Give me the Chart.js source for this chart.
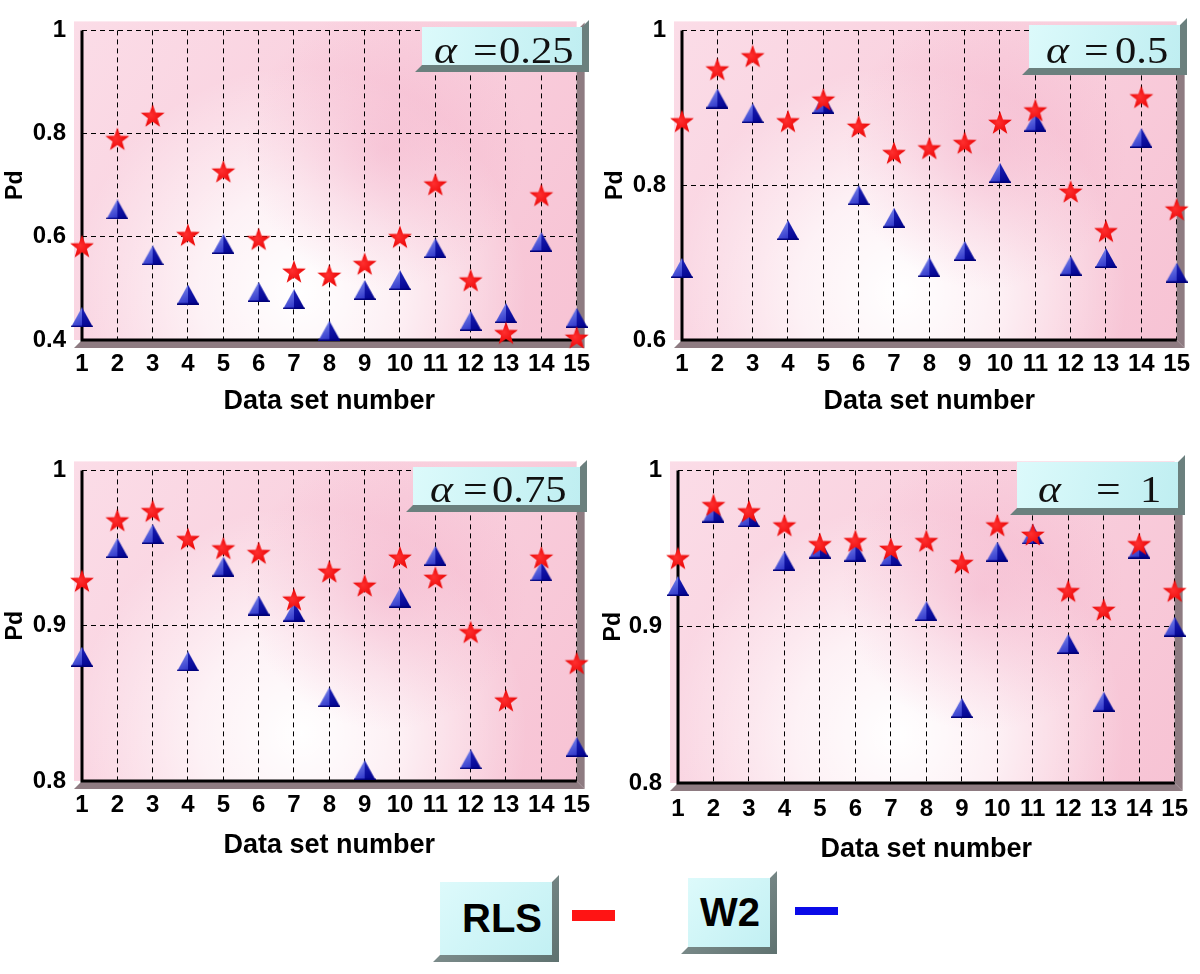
<!DOCTYPE html>
<html>
<head>
<meta charset="utf-8">
<script src="https://cdn.jsdelivr.net/npm/chart.js@4.4.0/dist/chart.umd.min.js"></script>
<style>
  body { margin: 0; background: #fff; width: 1200px; height: 974px; position: relative; overflow: hidden; font-family: "Liberation Sans", Arial, sans-serif; }
  .panel { position: absolute; width: 600px; height: 440px; }
  .lg-shadow { position: absolute; background: linear-gradient(135deg, #8d9b9b, #5f7270); }
  .lg-box { position: absolute; background: linear-gradient(135deg, #ddfafb, #c2f0f3); display: flex; align-items: center; justify-content: center; font-weight: bold; color: #000; font-size: 40px; }
  .dash { position: absolute; }
</style>
</head>
<body>
<div class="panel" style="left:0;top:0"><canvas id="c1" width="600" height="440"></canvas></div>
<div class="panel" style="left:600px;top:0"><canvas id="c2" width="600" height="440"></canvas></div>
<div class="panel" style="left:0;top:440px"><canvas id="c3" width="600" height="440"></canvas></div>
<div class="panel" style="left:600px;top:440px"><canvas id="c4" width="600" height="440"></canvas></div>
<div id="legend"></div>
<script>
// data
const datasetNumbers = [1, 2, 3, 4, 5, 6, 7, 8, 9, 10, 11, 12, 13, 14, 15];
const seriesNames = ['RLS', 'W2'];
const alphaLabels = ['0.25', '0.5', '0.75', '1'];

const rlsA025 = [0.582, 0.790, 0.835, 0.604, 0.727, 0.596, 0.533, 0.525, 0.548, 0.600, 0.702, 0.516, 0.414, 0.681, 0.405];
const w2A025  = [0.444, 0.653, 0.564, 0.488, 0.586, 0.493, 0.479, 0.418, 0.497, 0.516, 0.578, 0.437, 0.452, 0.590, 0.443];
const rlsA050 = [0.883, 0.950, 0.967, 0.883, 0.911, 0.876, 0.842, 0.848, 0.855, 0.881, 0.897, 0.792, 0.741, 0.914, 0.769];
const w2A050  = [0.693, 0.912, 0.893, 0.742, 0.905, 0.787, 0.758, 0.694, 0.715, 0.816, 0.882, 0.696, 0.706, 0.861, 0.687];
const rlsA075 = [0.929, 0.968, 0.974, 0.956, 0.950, 0.947, 0.917, 0.935, 0.926, 0.944, 0.931, 0.896, 0.852, 0.944, 0.876];
const w2A075  = [0.880, 0.950, 0.959, 0.877, 0.938, 0.913, 0.909, 0.854, 0.807, 0.918, 0.945, 0.814, null, 0.935, 0.822];
const rlsA100 = [0.944, 0.978, 0.974, 0.965, 0.953, 0.955, 0.950, 0.955, 0.941, 0.965, 0.959, 0.923, 0.911, 0.953, 0.923];
const w2A100  = [0.926, 0.973, 0.970, 0.942, 0.950, 0.948, 0.945, 0.910, 0.848, 0.948, 0.959, 0.889, 0.852, 0.950, 0.900];

const yMins = [0.4, 0.6, 0.8, 0.8];
const yMaxs = [1, 1, 1, 1];
const ySteps = [0.2, 0.2, 0.1, 0.1];

const rlsSeries = [rlsA025, rlsA050, rlsA075, rlsA100];
const w2Series = [w2A025, w2A050, w2A075, w2A100];

// layout of each panel inside its canvas
const panels = [
  { id: 'c1', area: [82, 22, 581, 340], box: [422, 27, 582, 65], txt: [12, 51, 77, 63], tickPad: 12, titlePad: 22, pdPad: 2 },
  { id: 'c2', area: [82, 22, 581, 340], box: [429, 25, 580, 68], txt: [17, 55, 86, 63], tickPad: 12, titlePad: 22, pdPad: 2 },
  { id: 'c3', area: [82, 23, 580, 341], box: [413, 27, 580, 65], txt: [17, 50, 79, 62], tickPad: 12, titlePad: 18, pdPad: 2 },
  { id: 'c4', area: [78, 26, 576, 343], box: [417, 22, 578, 68], txt: [21, 79, 123, 62], tickPad: 14, titlePad: 14, pdPad: 0 }
];

const narrow = '"Liberation Sans Narrow", "Arial Narrow", "Liberation Sans", Arial, sans-serif';
Chart.defaults.color = '#000';
Chart.defaults.font.family = '"Liberation Sans", Arial, sans-serif';

function makeStar() {
  const c = document.createElement('canvas');
  c.width = 26; c.height = 25;
  const ctx = c.getContext('2d');
  const cx = 13, cy = 13.7, R = 12.5, r = 5.1;
  ctx.beginPath();
  for (let i = 0; i < 10; i++) {
    const a = -Math.PI / 2 + i * Math.PI / 5;
    const rr = i % 2 === 0 ? R : r;
    ctx.lineTo(cx + rr * Math.cos(a), cy + rr * Math.sin(a));
  }
  ctx.closePath();
  const g = ctx.createRadialGradient(cx - 2, cy - 2, 0, cx, cy, R);
  g.addColorStop(0, '#ff3030');
  g.addColorStop(1, '#e80000');
  ctx.fillStyle = g;
  ctx.fill();
  return c;
}

function makeTriangle() {
  const c = document.createElement('canvas');
  c.width = 22; c.height = 20;
  const ctx = c.getContext('2d');
  ctx.beginPath();
  ctx.moveTo(11, 0); ctx.lineTo(0, 20); ctx.lineTo(11, 20); ctx.closePath();
  let g = ctx.createLinearGradient(0, 0, 11, 20);
  g.addColorStop(0, '#8896f0');
  g.addColorStop(1, '#2a30c8');
  ctx.fillStyle = g; ctx.fill();
  ctx.beginPath();
  ctx.moveTo(11, 0); ctx.lineTo(11, 20); ctx.lineTo(22, 20); ctx.closePath();
  g = ctx.createLinearGradient(11, 0, 22, 20);
  g.addColorStop(0, '#1c22b8');
  g.addColorStop(1, '#00008a');
  ctx.fillStyle = g; ctx.fill();
  ctx.fillStyle = '#000078';
  ctx.fillRect(0, 18.5, 22, 1.5);
  return c;
}

const starImg = makeStar();
const triImg = makeTriangle();

function bevelShadow(ctx, x0, y0, x1, y1, d, color) {
  ctx.fillStyle = color;
  ctx.beginPath();
  ctx.moveTo(x1, y0); ctx.lineTo(x1 + d, y0 - d); ctx.lineTo(x1 + d, y1 + d);
  ctx.lineTo(x0 - d, y1 + d); ctx.lineTo(x0, y1); ctx.lineTo(x1, y1);
  ctx.closePath();
  ctx.fill();
}

const framePlugin = {
  id: 'frame',
  beforeDraw(chart, args, opts) {
    const ctx = chart.ctx;
    const a = chart.chartArea;
    const x0 = a.left - 8, y0 = a.top - 9, x1 = a.right, y1 = a.bottom;
    const w = x1 - x0, h = y1 - y0;
    ctx.save();
    let g = ctx.createLinearGradient(x0, y0, x1, y1);
    g.addColorStop(0, '#fbdce7');
    g.addColorStop(0.5, '#f9d0de');
    g.addColorStop(1, '#f7c3d4');
    ctx.fillStyle = g;
    ctx.fillRect(x0, y0, w, h);
    const cx = x0 + w * 0.45, cy = y0 + h * 0.85;
    let rg = ctx.createRadialGradient(cx, cy, 0, cx, cy, w * 0.45);
    rg.addColorStop(0, 'rgba(255,255,255,1)');
    rg.addColorStop(0.45, 'rgba(255,255,255,0.7)');
    rg.addColorStop(1, 'rgba(255,255,255,0)');
    ctx.fillStyle = rg;
    ctx.fillRect(x0, y0, w, h);
    const px = x0 + w * 0.62, py = y0 + h * 0.4;
    rg = ctx.createRadialGradient(px, py, 0, px, py, w * 0.28);
    rg.addColorStop(0, 'rgba(243,172,198,0.5)');
    rg.addColorStop(1, 'rgba(243,172,198,0)');
    ctx.fillStyle = rg;
    ctx.fillRect(x0, y0, w, h);
    // floor and side of the box
    ctx.fillStyle = '#8e7b81';
    ctx.beginPath();
    ctx.moveTo(a.right, a.top); ctx.lineTo(a.right + 8, a.top - 8); ctx.lineTo(a.right + 8, a.bottom + 8);
    ctx.lineTo(a.right, a.bottom); ctx.closePath(); ctx.fill();
    ctx.beginPath();
    ctx.moveTo(a.left, a.bottom); ctx.lineTo(a.right, a.bottom); ctx.lineTo(a.right + 8, a.bottom + 8);
    ctx.lineTo(a.left - 8, a.bottom + 8); ctx.closePath(); ctx.fill();
    ctx.restore();
  },
  beforeDatasetsDraw(chart, args, opts) {
    const ctx = chart.ctx;
    const a = chart.chartArea;
    ctx.save();
    // solid axes
    ctx.strokeStyle = '#000';
    ctx.lineWidth = 3;
    ctx.beginPath();
    ctx.moveTo(a.left, a.top); ctx.lineTo(a.left, a.bottom + 1.5);
    ctx.moveTo(a.left - 1.5, a.bottom); ctx.lineTo(a.right, a.bottom);
    ctx.stroke();
    // alpha label box
    const [bx0, by0, bx1, by1] = opts.box;
    bevelShadow(ctx, bx0, by0, bx1, by1, 7, '#6b807e');
    const g = ctx.createLinearGradient(bx0, by0, bx1, by1);
    g.addColorStop(0, '#dcfafb');
    g.addColorStop(1, '#bfeef1');
    ctx.fillStyle = g;
    ctx.fillRect(bx0, by0, bx1 - bx0, by1 - by0);
    const [tA, tEq, tVal, base] = opts.txt;
    ctx.fillStyle = '#111';
    ctx.textBaseline = 'alphabetic';
    ctx.textAlign = 'left';
    const piece = (s, x, font) => {
      ctx.save();
      ctx.translate(bx0 + x, base);
      ctx.scale(1.15, 1);
      ctx.font = font;
      ctx.fillText(s, 0, 0);
      ctx.restore();
    };
    piece('\u03b1', tA, 'italic 38px "Liberation Serif", "Times New Roman", serif');
    piece('=', tEq, '38px "Liberation Serif", "Times New Roman", serif');
    piece(opts.alpha, tVal, '37px "Liberation Serif", "Times New Roman", serif');
    ctx.restore();
  }
};

panels.forEach(function (p, i) {
  const [L, T, R, B] = p.area;
  const rls = rlsSeries[i].map((v, k) => ({ x: datasetNumbers[k], y: v }));
  const w2 = w2Series[i].map((v, k) => ({ x: datasetNumbers[k], y: v }));
  new Chart(document.getElementById(p.id), {
    type: 'scatter',
    data: {
      datasets: [
        { label: seriesNames[0], data: rls, pointStyle: starImg, pointRadius: 12, clip: false, backgroundColor: '#f00', borderColor: '#f00' },
        { label: seriesNames[1], data: w2, pointStyle: triImg, pointRadius: 11, clip: false, backgroundColor: '#00c', borderColor: '#00c' }
      ]
    },
    options: {
      responsive: false,
      animation: false,
      events: [],
      layout: { padding: { left: 0, top: T, right: 600 - R, bottom: 0 } },
      plugins: {
        legend: { display: false },
        tooltip: { enabled: false },
        frame: { box: p.box, txt: p.txt, alpha: alphaLabels[i] }
      },
      scales: {
        x: {
          type: 'linear',
          min: 1,
          max: 15,
          afterFit: function (scale) { scale.height = 440 - B; },
          ticks: { stepSize: 1, autoSkip: false, maxRotation: 0, padding: p.tickPad - 2, font: { family: narrow, size: 24, weight: 'bold' } },
          grid: { color: '#000', lineWidth: 1, drawTicks: false },
          border: { display: false, dash: [5, 4] },
          title: { display: true, text: 'Data set number', font: { size: 27, weight: 'bold' }, padding: { top: 0, bottom: p.titlePad } }
        },
        y: {
          min: yMins[i],
          max: yMaxs[i],
          afterFit: function (scale) { scale.width = L; },
          ticks: {
            stepSize: ySteps[i],
            padding: 16,
            font: { family: narrow, size: 24, weight: 'bold' },
            callback: function (v) { return String(Number(v.toFixed(2))); }
          },
          grid: { color: '#000', lineWidth: 1, drawTicks: false },
          border: { display: false, dash: [5, 4] },
          title: { display: true, text: 'Pd', font: { size: 23, weight: 'bold' }, padding: { top: p.pdPad, bottom: 0 } }
        }
      }
    },
    plugins: [framePlugin]
  });
});

// legend boxes
function addLegendBox(x0, y0, x1, y1, text, shift) {
  const d = 7;
  const host = document.getElementById('legend');
  const w = x1 - x0, h = y1 - y0;
  const sh = document.createElement('div');
  sh.className = 'lg-shadow';
  sh.style.left = (x0 - d) + 'px';
  sh.style.top = (y0 - d) + 'px';
  sh.style.width = (w + 2 * d) + 'px';
  sh.style.height = (h + 2 * d) + 'px';
  sh.style.clipPath = 'polygon(' + [
    [d + w, d], [2 * d + w, 0], [2 * d + w, 2 * d + h], [0, 2 * d + h], [d, d + h], [d + w, d + h]
  ].map(q => q[0] + 'px ' + q[1] + 'px').join(',') + ')';
  host.appendChild(sh);
  const b = document.createElement('div');
  b.className = 'lg-box';
  b.style.left = x0 + 'px';
  b.style.top = y0 + 'px';
  b.style.width = w + 'px';
  b.style.height = h + 'px';
  b.style.paddingLeft = shift + 'px';
  b.style.boxSizing = 'border-box';
  b.textContent = text;
  host.appendChild(b);
}
function addDash(x, y, w, h, color) {
  const el = document.createElement('div');
  el.className = 'dash';
  el.style.left = x + 'px'; el.style.top = y + 'px';
  el.style.width = w + 'px'; el.style.height = h + 'px';
  el.style.background = color;
  document.getElementById('legend').appendChild(el);
}
addLegendBox(440, 882, 552, 955, seriesNames[0], 12);
addDash(572, 910, 43, 11, '#ff1414');
addLegendBox(688, 878, 770, 947, seriesNames[1], 2);
addDash(795, 907, 43, 8, '#0a0ae8');
</script>
</body>
</html>
